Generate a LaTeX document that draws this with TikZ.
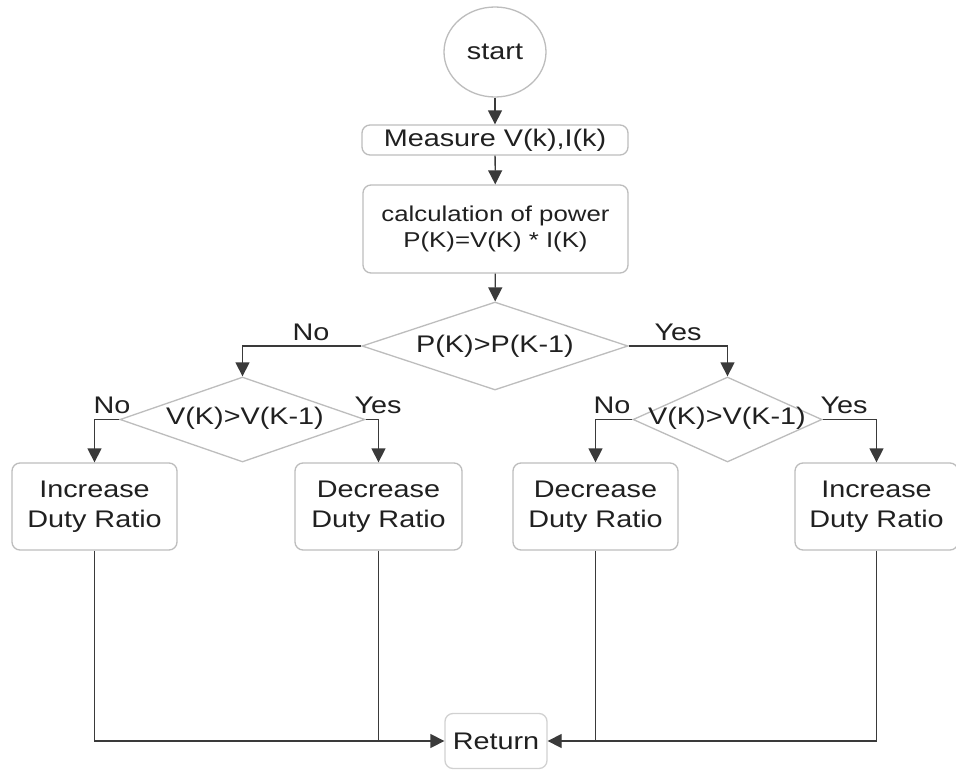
\documentclass[tikz,border=0pt]{standalone}
\usepackage{fontspec}
\setmainfont[FakeStretch=1.2]{Liberation Sans}
\usetikzlibrary{shapes.geometric,arrows.meta}
\definecolor{boxline}{HTML}{BDBDBD}
\definecolor{conn}{HTML}{3A3A3A}
\definecolor{txt}{HTML}{202020}
\begin{document}
\begin{tikzpicture}[x=1pt,y=-1pt,
  every node/.style={text=txt, font=\fontsize{24}{30}\selectfont, inner sep=0pt},
  procbox/.style={draw=boxline, line width=1.3pt, rounded corners=8pt, rectangle, align=center},
  decbox/.style={draw=boxline, line width=1.3pt, diamond},
  lbl/.style={font=\fontsize{24}{28}\selectfont},
  conline/.style={draw=conn, line width=1.3pt},
  arr/.style={conline, -{Triangle[length=14pt,width=14pt]}}]
\useasboundingbox (0,0) rectangle (956,771);
\fill[white] (0,0) rectangle (956,771);
% nodes
\node[draw=boxline, line width=1.3pt, ellipse, minimum width=102pt, minimum height=90pt] (start) at (495,52) {start};
\node[procbox, minimum width=266pt, minimum height=30pt] (meas) at (495,140) {Measure V(k),I(k)};
\node[procbox, minimum width=265pt, minimum height=88pt, font=\fontsize{21.5}{26}\selectfont] (calc) at (495.5,229) {calculation of power\\P(K)=V(K) * I(K)};
\node[decbox, minimum width=266pt, minimum height=88pt] (d1) at (495,346) {};
\node at (d1) {P(K)>P(K-1)};
\node[decbox, minimum width=245pt, minimum height=85pt] (d2) at (242.5,419.5) {};
\node at (245,418) {V(K)>V(K-1)};
\node[decbox, minimum width=189pt, minimum height=85pt] (d3) at (727.5,419.5) {};
\node at (727,418) {V(K)>V(K-1)};
\node[procbox, minimum width=165pt, minimum height=87pt] (b1) at (94.5,506.5) {Increase\\Duty Ratio};
\node[procbox, minimum width=167pt, minimum height=87pt] (b2) at (378.5,506.5) {Decrease\\Duty Ratio};
\node[procbox, minimum width=165pt, minimum height=87pt] (b3) at (595.5,506.5) {Decrease\\Duty Ratio};
\node[procbox, minimum width=163pt, minimum height=87pt] (b4) at (876.5,506.5) {Increase\\Duty Ratio};
\node[procbox, draw=boxline!70, minimum width=102pt, minimum height=55pt] (ret) at (496,741) {Return};
% labels
\node[lbl] (l1) at (311,332) {No};
\node[lbl] (l2) at (678,332) {Yes};
\node[lbl] (l3) at (112,405) {No};
\node[lbl] (l4) at (378,405) {Yes};
\node[lbl] (l5) at (612,405) {No};
\node[lbl] (l6) at (844,405) {Yes};
% connectors
\draw[arr] (start) -- (meas);
\draw[arr] (meas) -- (calc);
\draw[arr] (calc) -- (d1);
\draw[arr] (d1.west) -| (d2.north);
\draw[arr] (d1.east) -| (d3.north);
\draw[arr] (d2.west) -| (b1.north);
\draw[arr] (d2.east) -| (b2.north);
\draw[arr] (d3.west) -| (b3.north);
\draw[arr] (d3.east) -| (b4.north);
\draw[arr] (b1.south) |- (ret.west);
\draw[arr] (b4.south) |- (ret.east);
\draw[conline] (b2.south) -- (b2.south |- ret.west);
\draw[conline] (b3.south) -- (b3.south |- ret.east);
\end{tikzpicture}
\end{document}
